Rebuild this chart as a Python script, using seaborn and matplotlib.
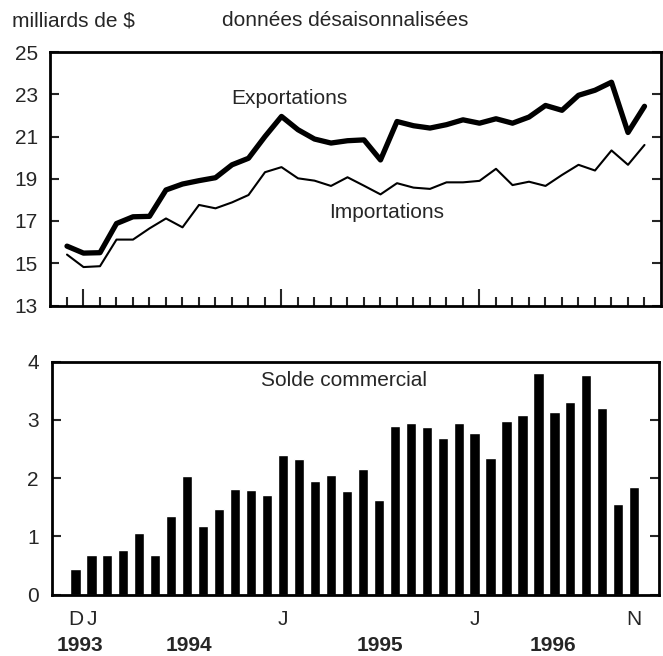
import numpy as np
import pandas as pd
import matplotlib
matplotlib.use("Agg")
import matplotlib.pyplot as plt
import seaborn as sns

# Months: Dec 1993 .. Nov 1996 (36 months)
months = ["D", "J", "F", "M", "A", "M", "J", "J", "A", "S", "O", "N",
          "D", "J", "F", "M", "A", "M", "J", "J", "A", "S", "O", "N",
          "D", "J", "F", "M", "A", "M", "J", "J", "A", "S", "O", "N"]

exportations = [15.81, 15.48, 15.50, 16.88, 17.20, 17.22, 18.47, 18.75, 18.91,
                19.05, 19.66, 19.97, 21.00, 21.95, 21.32, 20.88, 20.69, 20.80,
                20.84, 19.89, 21.71, 21.51, 21.40, 21.56, 21.79, 21.63, 21.84,
                21.63, 21.92, 22.47, 22.24, 22.95, 23.19, 23.57, 21.19, 22.43]

importations = [15.41, 14.82, 14.86, 16.12, 16.12, 16.65, 17.12, 16.70, 17.76,
                17.60, 17.88, 18.23, 19.31, 19.55, 19.02, 18.91, 18.66, 19.07,
                18.67, 18.26, 18.79, 18.58, 18.52, 18.83, 18.83, 18.90, 19.47,
                18.70, 18.86, 18.66, 19.18, 19.66, 19.39, 20.34, 19.66, 20.60]

solde = [0.43, 0.67, 0.67, 0.77, 1.06, 0.67, 1.35, 2.04, 1.18, 1.46, 1.81, 1.79,
         1.71, 2.40, 2.32, 1.94, 2.05, 1.77, 2.16, 1.63, 2.89, 2.94, 2.87, 2.68,
         2.95, 2.77, 2.35, 2.97, 3.09, 3.81, 3.14, 3.30, 3.77, 3.21, 1.55, 1.84]

top_yticks = [13, 15, 17, 19, 21, 23, 25]
bot_yticks = [0, 1, 2, 3, 4]
month_label_pos = [0, 1, 13, 25, 35]
month_labels = ["D", "J", "J", "J", "N"]
years = ["1993", "1994", "1995", "1996"]
year_pos = [0.3, 7.1, 19.1, 29.9]

idx = np.arange(len(months))
df = pd.DataFrame({"t": idx, "exp": exportations, "imp": importations, "solde": solde})

sns.set_style("white")
plt.rcParams["font.family"] = ["Liberation Sans", "DejaVu Sans"]
FS = 15

W, H = 663, 656
fig = plt.figure(figsize=(W / 100, H / 100), dpi=100)

def frac(l, t, r, b):
    return [l / W, 1 - b / H, (r - l) / W, (b - t) / H]

ax1 = fig.add_axes(frac(50.5, 52, 661, 305.5))
ax2 = fig.add_axes(frac(51.5, 361.5, 659, 594.5))

# Top panel
sns.lineplot(data=df, x="t", y="exp", ax=ax1, color="black", lw=3.8)
sns.lineplot(data=df, x="t", y="imp", ax=ax1, color="black", lw=1.5)
ax1.set_xlim(-1, 36)
ax1.set_ylim(13, 25)
ax1.set_yticks(top_yticks)
ax1.set_yticklabels([str(v) for v in top_yticks], fontsize=FS)
major = [1, 13, 25]
minor = [i for i in idx if i not in major]
ax1.set_xticks(major)
ax1.set_xticks(minor, minor=True)
ax1.set_xticklabels([])
ax1.tick_params(axis="x", which="major", direction="in", length=12.5, width=1.5, bottom=True)
ax1.tick_params(axis="x", which="minor", direction="in", length=6.5, width=1.5, bottom=True)
ax1.tick_params(axis="y", direction="in", length=6.5, width=1.5, left=True, right=True,
                labelsize=FS, pad=9)
ax1.set_xlabel("")
ax1.set_ylabel("")
ax1.text(13.5, 22.8, "Exportations", fontsize=FS, ha="center", va="center")
ax1.text(19.4, 17.42, "Importations", fontsize=FS, ha="center", va="center")

# Bottom panel
sns.barplot(data=df, x="t", y="solde", ax=ax2, color="black", width=0.64,
            saturation=1, errorbar=None)
ax2.set_xlim(-1.5, 36.55)
ax2.set_ylim(0, 4)
ax2.set_yticks(bot_yticks)
ax2.set_yticklabels([str(v) for v in bot_yticks], fontsize=FS)
ax2.set_xticks(month_label_pos)
ax2.set_xticklabels(month_labels, fontsize=FS)
ax2.tick_params(axis="x", length=0, pad=11, labelsize=FS)
ax2.tick_params(axis="y", direction="in", length=6.5, width=1.5, left=True, right=True,
                labelsize=FS, pad=9)
ax2.set_xlabel("")
ax2.set_ylabel("")
ax2.text(16.8, 3.68, "Solde commercial", fontsize=FS, ha="center", va="center")
for y, p in zip(years, year_pos):
    ax2.text(p, -0.87, y, fontsize=FS, fontweight="bold", ha="center", va="center")

for ax in (ax1, ax2):
    for s in ax.spines.values():
        s.set_visible(True)
        s.set_linewidth(2.0)
        s.set_color("black")

fig.text(12 / W, 1 - 21 / H, "milliards de $", fontsize=FS, ha="left", va="center")
fig.text(222 / W, 1 - 21 / H, "données désaisonnalisées", fontsize=FS, ha="left", va="center")

fig.savefig("out.png", dpi=100)
